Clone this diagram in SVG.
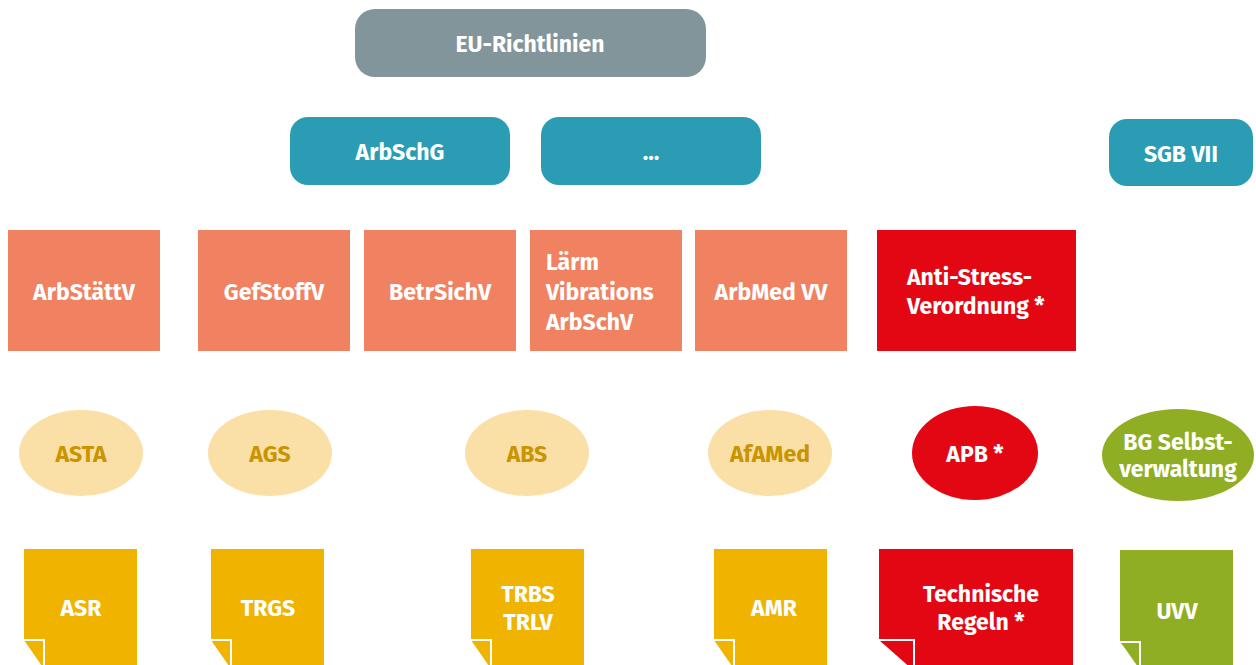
<svg xmlns="http://www.w3.org/2000/svg" width="1256" height="665" viewBox="0 0 1256 665">
<style>
text{font-family:"Fira Sans","Noto Sans","Open Sans",sans-serif;font-weight:bold;font-size:23px;fill:#fff;text-anchor:middle;dominant-baseline:central}
.grey{fill:#82959B}.teal{fill:#2A9DB5}.sal{fill:#F08262}.red{fill:#E30613}.yel{fill:#F0B400}.lyel{fill:#FADFA6}.grn{fill:#8FAE24}
.dk{fill:#C89400}
.fold{stroke:#fff;stroke-width:2}
.l{text-anchor:start}
</style>
<defs>
<path id="doc" d="M0,0 H113 V120 H20 L0,91 Z"/>
</defs>
<g id="connectors"></g>
<g id="eu"><rect class="grey" x="355" y="9" width="351" height="68" rx="20"/><text x="530" y="44">EU-Richtlinien</text></g>
<g id="arbschg"><rect class="teal" x="290" y="117" width="220" height="68" rx="18"/><text x="400" y="152">ArbSchG</text></g>
<g id="dots"><rect class="teal" x="541" y="117" width="220" height="68" rx="18"/><text x="651" y="152">...</text></g>
<g id="sgb"><rect class="teal" x="1109" y="119" width="144" height="67" rx="18"/><text x="1181" y="154">SGB VII</text></g>

<g id="arbstaettv"><rect class="sal" x="8" y="230" width="152" height="121"/><text x="84" y="292">ArbStättV</text></g>
<g id="gefstoffv"><rect class="sal" x="198" y="230" width="152" height="121"/><text x="274" y="292">GefStoffV</text></g>
<g id="betrsichv"><rect class="sal" x="364" y="230" width="152" height="121"/><text x="440" y="292">BetrSichV</text></g>
<g id="laerm"><rect class="sal" x="530" y="230" width="152" height="121"/><text class="l" x="546" y="262">Lärm</text><text class="l" x="546" y="292">Vibrations</text><text class="l" x="546" y="322">ArbSchV</text></g>
<g id="arbmed"><rect class="sal" x="695" y="230" width="152" height="121"/><text x="771" y="292">ArbMed VV</text></g>
<g id="antistress"><rect class="red" x="877" y="230" width="199" height="121"/><text class="l" x="907" y="277">Anti-Stress-</text><text class="l" x="907" y="306">Verordnung *</text></g>

<g id="asta"><ellipse class="lyel" cx="81" cy="453" rx="62" ry="43"/><text class="dk" x="81" y="454">ASTA</text></g>
<g id="ags"><ellipse class="lyel" cx="270" cy="453" rx="62" ry="43"/><text class="dk" x="270" y="454">AGS</text></g>
<g id="abs"><ellipse class="lyel" cx="527" cy="453" rx="62" ry="43"/><text class="dk" x="527" y="454">ABS</text></g>
<g id="afamed"><ellipse class="lyel" cx="770" cy="453" rx="62" ry="43"/><text class="dk" x="770" y="454">AfAMed</text></g>
<g id="apb"><ellipse class="red" cx="975" cy="453" rx="63" ry="47"/><text x="975" y="454">APB *</text></g>
<g id="bg"><ellipse class="grn" cx="1178" cy="455" rx="76" ry="46"/><text x="1178" y="442" font-size="21">BG Selbst-</text><text x="1178" y="469" font-size="21">verwaltung</text></g>

<g id="asr"><use href="#doc" class="yel" x="24" y="549"/><path class="yel fold" d="M24,640 H44 V666"/><text x="81" y="608">ASR</text></g>
<g id="trgs"><use href="#doc" class="yel" x="211" y="549"/><path class="yel fold" d="M211,640 H231 V666"/><text x="268" y="608">TRGS</text></g>
<g id="trbs"><use href="#doc" class="yel" x="471" y="549"/><path class="yel fold" d="M471,640 H491 V666"/><text x="528" y="594">TRBS</text><text x="528" y="622">TRLV</text></g>
<g id="amr"><use href="#doc" class="yel" x="714" y="549"/><path class="yel fold" d="M714,640 H734 V666"/><text x="774" y="608">AMR</text></g>
<g id="techregeln"><path class="red" d="M879,549 H1073 V670 H913 L879,640 Z"/><path class="red fold" d="M879,640 H914 V666"/><text x="981" y="594">Technische</text><text x="981" y="622">Regeln *</text></g>
<g id="uvv"><use href="#doc" class="grn" x="1120" y="550"/><path class="grn fold" d="M1120,642 H1140 V666"/><text x="1177" y="611">UVV</text></g>
</svg>
